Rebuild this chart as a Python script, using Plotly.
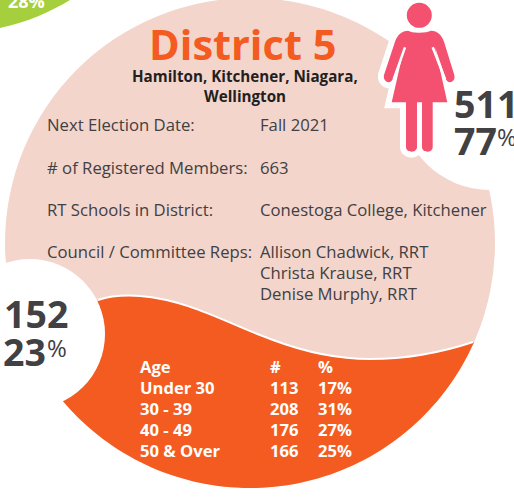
import numpy as np
import plotly.graph_objects as go

title = "District 5"
subtitle_lines = ["Hamilton, Kitchener, Niagara,", "Wellington"]
info_labels = ["Next Election Date:", "# of Registered Members:", "RT Schools in District:", "Council / Committee Reps:"]
info_values = ["Fall 2021", "663", "Conestoga College, Kitchener", "Allison Chadwick, RRT", "Christa Krause, RRT", "Denise Murphy, RRT"]
age_groups = ["Age", "Under 30", "30 - 39", "40 - 49", "50 & Over"]
age_counts = ["#", "113", "208", "176", "166"]
age_pcts = ["%", "17%", "31%", "27%", "25%"]
female_count, female_pct = "511", "77"
male_count, male_pct = "152", "23"
prev_pct = "28%"

PINK, ORANGE, ROSE, GREEN, DARK = "#f3d5cc", "#f45b20", "#f4506f", "#a5cf3c", "#414042"
CX, CY, R = 250, 243, 245

def circle(cx, cy, r, color):
    return dict(type="circle", xref="x", yref="y", x0=cx-r, x1=cx+r, y0=cy-r, y1=cy+r,
                fillcolor=color, line_width=0, layer="below")

def path(d, fill=None, line=None, width=0):
    return dict(type="path", xref="x", yref="y", path=d, layer="below",
                fillcolor=fill if fill else "rgba(0,0,0,0)",
                line=dict(color=line if line else "rgba(0,0,0,0)", width=width))

def z(x, y):  # figure drawing coordinates (3x scale, offset)
    return f"{360+x/3:.1f},{y/3:.1f}"

wave = "M98,300 C110,296 125,295 140,296 C190,300 230,325 273,340 C305,352 340,359 370,359 C405,359 440,353 473,342"
a0, a1 = np.arctan2(342-CY, 473-CX), np.arctan2(400-CY, 62-CX) % (2*np.pi)
arc = " ".join(f"L{CX+R*np.cos(t):.1f},{CY+R*np.sin(t):.1f}" for t in np.linspace(a0, a1, 80))

body = ("M" + z(145, 92) + " C" + z(155, 100) + " " + z(200, 100) + " " + z(213, 92) +
        " C" + z(232, 92) + " " + z(245, 105) + " " + z(252, 125) +
        " L" + z(283, 225) + " C" + z(288, 245) + " " + z(265, 255) + " " + z(258, 238) +
        " L" + z(225, 142) + " L" + z(262, 307) + " L" + z(218, 307) + " L" + z(218, 440) +
        " C" + z(218, 460) + " " + z(186, 460) + " " + z(186, 440) + " L" + z(186, 307) +
        " L" + z(171, 307) + " L" + z(171, 440) + " C" + z(171, 460) + " " + z(138, 460) + " " + z(138, 440) +
        " L" + z(138, 307) + " L" + z(95, 307) + " L" + z(133, 142) + " L" + z(98, 238) +
        " C" + z(90, 255) + " " + z(68, 245) + " " + z(72, 225) +
        " L" + z(105, 125) + " C" + z(112, 105) + " " + z(125, 92) + " " + z(145, 92) + " Z")
slit_l = "M" + z(135, 142) + " L" + z(101, 238)
slit_r = "M" + z(218, 142) + " L" + z(255, 238)

shapes = [
    path("M0,28 C28,22 50,12 70,0 L0,0 Z", fill=GREEN),
    circle(CX, CY, R, PINK),
    path(wave + " " + arc + " Z", fill=ORANGE),
    path(wave, line="white", width=2),
    circle(30, 334, 75, "white"),
    circle(490, 100, 90, "white"),
    circle(419.3, 15.3, 18.5, "white"),
    path(body, fill="white", line="white", width=12),
    circle(419.3, 15.3, 12.5, ROSE),
    path(body, fill=ROSE),
    path(slit_l, line="white", width=2.5),
    path(slit_r, line="white", width=2.5),
]

FONT = "Open Sans"
ann = []
def text(x, y, s, size, color=DARK, bold=False, anchor="left"):
    ann.append(dict(x=x, y=y, xref="x", yref="y", text=f"<b>{s}</b>" if bold else s, showarrow=False,
                    xanchor=anchor, yanchor="middle", align=anchor,
                    font=dict(family=FONT, size=size, color=color)))

text(242.5, 44, title, 41.5, ORANGE, True, "center")
for y, s in zip([76, 96], subtitle_lines):
    text(245, y, s, 15.2, "#231f20", True, "center")
for y, s in zip([124, 167, 209, 251], info_labels):
    text(45, y, s, 16.7)
for y, s in zip([124, 167, 209, 251, 272, 293], info_values):
    text(258, y, s, 16.7)
for i, y in enumerate([366, 387, 408, 429, 450]):
    text(138, y, age_groups[i], 16.6, "white", True)
    text(268, y, age_counts[i], 16.6, "white", True)
    text(316, y, age_pcts[i], 16.6, "white", True)
text(452, 103.5, female_count, 37.5, bold=True)
text(452, 140.5, female_pct, 37.5, bold=True)
text(495, 136, "%", 24)
text(2, 313.5, male_count, 37.5, bold=True)
text(1, 351.5, male_pct, 37.5, bold=True)
text(45, 347.5, "%", 24)
text(26, 0.5, prev_pct, 18, "white", True, "center")

fig = go.Figure()
fig.update_layout(width=514, height=498, margin=dict(l=0, r=0, t=0, b=0), paper_bgcolor="white", plot_bgcolor="white",
                  shapes=shapes, annotations=ann, showlegend=False,
                  xaxis=dict(range=[0, 514], visible=False, fixedrange=True),
                  yaxis=dict(range=[498, 0], visible=False, fixedrange=True))
fig.write_html("out.html", config={"displayModeBar": False},
               post_script="document.body.style.margin='0';document.body.style.overflow='hidden';")
